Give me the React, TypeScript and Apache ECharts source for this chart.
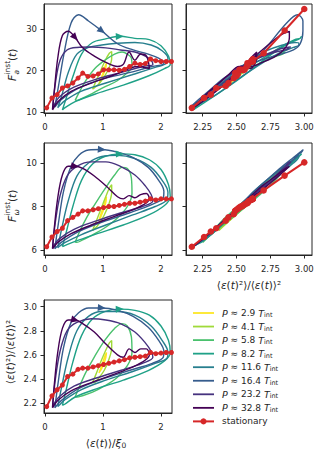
import React, { useEffect, useRef } from 'react';
import * as echarts from 'echarts';

const FONT = 'DejaVu Sans';
const INK = '#262626';
const RED = '#d62728';

// legend / series labels
const periods = ['2.9', '4.1', '5.8', '8.2', '11.6', '16.4', '23.2', '32.8'];
const colors = ['#fde725', '#a0da39', '#4ac16d', '#1fa187', '#277f8e', '#365c8d', '#46327e', '#440154'];

// tick values
const epsTicks = [0, 1, 2];
const ratioTicks = [2.25, 2.5, 2.75, 3.0];
const faTicks = [10, 20, 30];
const fwTicks = [6, 8, 10];
const ratioYTicks = [2.2, 2.4, 2.6, 2.8, 3.0];

// P ≈ 2.9 T_int
const eps29 = [0.93, 0.97, 1.01, 1.04, 1.06, 1.05, 1.01, 0.96, 0.93];
const ratio29 = [2.45, 2.50, 2.56, 2.60, 2.62, 2.58, 2.52, 2.47, 2.45];
const fa29 = [16.8, 18.3, 19.8, 21.2, 21.8, 20.8, 19.2, 17.5, 16.8];
const fw29 = [7.35, 7.7, 8.0, 8.3, 8.45, 8.2, 7.85, 7.5, 7.35];

// P ≈ 4.1 T_int
const eps41 = [0.82, 0.88, 0.96, 1.04, 1.11, 1.15, 1.15, 1.10, 1.02, 0.93, 0.85, 0.82];
const ratio41 = [2.37, 2.44, 2.54, 2.63, 2.70, 2.72, 2.66, 2.56, 2.47, 2.41, 2.37, 2.37];
const fa41 = [15.5, 17.5, 20.0, 22.5, 24.2, 24.6, 23.0, 20.5, 18.5, 16.8, 15.8, 15.5];
const fw41 = [6.9, 7.3, 7.85, 8.4, 8.85, 9.0, 8.65, 8.1, 7.6, 7.2, 6.95, 6.9];

// P ≈ 5.8 T_int
const eps58 = [0.52, 0.58, 0.70, 0.86, 1.03, 1.20, 1.33, 1.42, 1.49, 1.50, 1.42, 1.24, 1.02, 0.82, 0.64, 0.55, 0.52];
const ratio58 = [2.25, 2.32, 2.45, 2.59, 2.72, 2.82, 2.86, 2.84, 2.75, 2.62, 2.51, 2.41, 2.34, 2.29, 2.26, 2.25, 2.25];
const fa58 = [12.8, 14.5, 17.5, 20.5, 22.5, 24.0, 24.5, 24.0, 23.0, 21.0, 19.5, 17.5, 16.0, 14.5, 13.3, 12.8, 12.8];
const fw58 = [6.35, 6.75, 7.4, 8.1, 8.8, 9.45, 9.8, 9.75, 9.3, 8.6, 8.0, 7.45, 7.0, 6.7, 6.45, 6.35, 6.35];

// P ≈ 8.2 T_int
const eps82 = [0.30, 0.37, 0.48, 0.63, 0.82, 1.03, 1.29, 1.55, 1.80, 2.00, 2.13, 2.16, 2.06, 1.78, 1.35, 0.90, 0.52, 0.34, 0.30];
const ratio82 = [2.18, 2.32, 2.54, 2.76, 2.90, 2.96, 2.98, 2.97, 2.93, 2.84, 2.72, 2.62, 2.55, 2.47, 2.39, 2.32, 2.25, 2.19, 2.18];
const fa82 = [10.5, 13.5, 18.5, 24.0, 26.8, 27.6, 28.3, 27.8, 27.5, 26.0, 23.5, 21.5, 20.5, 18.7, 16.5, 14.5, 12.5, 11.0, 10.5];
const fw82 = [6.15, 6.85, 8.0, 9.2, 9.95, 10.3, 10.42, 10.38, 10.15, 9.7, 9.0, 8.45, 8.05, 7.6, 7.15, 6.75, 6.4, 6.2, 6.15];

// P ≈ 11.6 T_int
const eps116 = [0.22, 0.29, 0.40, 0.55, 0.75, 0.98, 1.25, 1.55, 1.83, 2.02, 2.12, 2.10, 1.90, 1.50, 1.05, 0.62, 0.35, 0.24, 0.22];
const ratio116 = [2.17, 2.34, 2.58, 2.80, 2.92, 2.96, 2.96, 2.93, 2.84, 2.72, 2.62, 2.57, 2.53, 2.46, 2.39, 2.31, 2.23, 2.18, 2.17];
const fa116 = [11.0, 14.0, 19.5, 24.0, 25.6, 26.2, 26.6, 26.8, 26.2, 24.8, 23.0, 21.8, 20.8, 19.0, 17.0, 15.0, 12.8, 11.4, 11.0];
const fw116 = [6.1, 7.0, 8.25, 9.4, 10.0, 10.3, 10.35, 10.2, 9.8, 9.2, 8.65, 8.3, 8.0, 7.6, 7.15, 6.7, 6.35, 6.15, 6.1];

// P ≈ 16.4 T_int
const eps164 = [0.17, 0.23, 0.32, 0.45, 0.58, 0.75, 0.98, 1.25, 1.52, 1.78, 1.96, 2.05, 2.04, 1.85, 1.45, 1.00, 0.58, 0.28, 0.17];
const ratio164 = [2.16, 2.38, 2.66, 2.87, 2.95, 2.99, 2.99, 2.97, 2.92, 2.83, 2.72, 2.63, 2.58, 2.53, 2.47, 2.40, 2.32, 2.22, 2.16];
const fa164 = [11.2, 16.0, 23.5, 31.5, 33.5, 32.0, 29.6, 26.5, 25.0, 24.0, 23.0, 22.0, 21.5, 21.0, 19.5, 18.0, 15.8, 13.0, 11.2];
const fw164 = [6.05, 7.2, 8.7, 9.85, 10.35, 10.6, 10.62, 10.5, 10.25, 9.8, 9.2, 8.7, 8.4, 8.1, 7.7, 7.3, 6.85, 6.35, 6.05];

// P ≈ 23.2 T_int
const eps232 = [0.13, 0.18, 0.26, 0.38, 0.55, 0.80, 1.05, 1.30, 1.55, 1.73, 1.83, 1.86, 1.68, 1.30, 0.90, 0.50, 0.24, 0.13];
const ratio232 = [2.17, 2.40, 2.63, 2.80, 2.87, 2.90, 2.89, 2.86, 2.79, 2.70, 2.63, 2.58, 2.53, 2.47, 2.41, 2.34, 2.25, 2.17];
const fa232 = [10.8, 17.0, 22.5, 25.0, 25.6, 25.7, 25.5, 25.0, 24.5, 23.5, 22.5, 21.5, 21.0, 19.5, 18.0, 16.0, 13.5, 10.8];
const fw232 = [6.1, 7.3, 8.5, 9.4, 9.85, 10.05, 10.05, 9.85, 9.45, 8.95, 8.55, 8.25, 8.0, 7.7, 7.35, 6.95, 6.5, 6.1];

// P ≈ 32.8 T_int
const eps328 = [0.13, 0.16, 0.22, 0.30, 0.40, 0.52, 0.65, 0.85, 1.05, 1.25, 1.35, 1.45, 1.55, 1.65, 1.75, 1.80, 1.60, 1.20, 0.80, 0.45, 0.22, 0.13];
const ratio328 = [2.16, 2.35, 2.62, 2.82, 2.89, 2.89, 2.86, 2.79, 2.69, 2.60, 2.58, 2.65, 2.62, 2.65, 2.65, 2.60, 2.52, 2.44, 2.37, 2.30, 2.22, 2.16];
const fa328 = [10.5, 15.0, 23.0, 28.5, 29.5, 28.0, 25.5, 23.5, 22.0, 21.0, 21.5, 24.5, 22.5, 24.0, 23.5, 20.5, 21.0, 19.0, 17.0, 15.0, 12.5, 10.5];
const fw328 = [6.05, 7.0, 8.4, 9.45, 9.85, 9.85, 9.75, 9.4, 8.95, 8.45, 8.35, 8.5, 8.4, 8.55, 8.6, 8.35, 7.95, 7.55, 7.15, 6.75, 6.35, 6.05];

// stationary
const statEps = [0.03, 0.12, 0.21, 0.30, 0.39, 0.48, 0.57, 0.65, 0.74, 0.83, 0.92, 1.01, 1.10, 1.19, 1.28, 1.37, 1.46, 1.55, 1.64, 1.73, 1.82, 1.91, 2.00, 2.09, 2.18, 2.40, 2.70, 3.00];
const statRatio = [2.17, 2.26, 2.31, 2.35, 2.42, 2.44, 2.48, 2.49, 2.49, 2.50, 2.51, 2.52, 2.53, 2.54, 2.55, 2.56, 2.575, 2.58, 2.585, 2.59, 2.62, 2.61, 2.615, 2.62, 2.62, 2.70, 2.855, 3.00];
const statFa = [11.0, 13.4, 14.2, 15.8, 16.3, 17.0, 18.2, 19.4, 18.6, 18.7, 19.2, 20.2, 20.2, 20.2, 20.1, 20.3, 21.0, 21.8, 21.5, 21.7, 22.8, 22.4, 22.2, 22.2, 22.2, 24.2, 29.7, 34.9];
const statFw = [6.15, 6.6, 6.85, 7.0, 7.35, 7.5, 7.65, 7.8, 7.8, 7.85, 7.9, 7.95, 8.0, 8.0, 8.05, 8.1, 8.15, 8.15, 8.2, 8.25, 8.35, 8.3, 8.35, 8.35, 8.35, 8.74, 9.42, 10.03];

type Loop = { name: string; color: string; eps: number[]; ratio: number[]; fa: number[]; fw: number[]; arrow: number };
const loopData: [number[], number[], number[], number[], number][] = [
  [eps29, ratio29, fa29, fw29, -1],
  [eps41, ratio41, fa41, fw41, -1],
  [eps58, ratio58, fa58, fw58, -1],
  [eps82, ratio82, fa82, fw82, 6],
  [eps116, ratio116, fa116, fw116, -1],
  [eps164, ratio164, fa164, fw164, 6],
  [eps232, ratio232, fa232, fw232, -1],
  [eps328, ratio328, fa328, fw328, 5],
];
const loops: Loop[] = loopData.map((d, k) => ({
  name: `P ≈ ${periods[k]} Tint`,
  color: colors[k],
  eps: d[0], ratio: d[1], fa: d[2], fw: d[3], arrow: d[4],
}));
const stat = { eps: statEps, ratio: statRatio, fa: statFa, fw: statFw };

// panel layout
const panels = [
  { x: 'eps', y: 'fa', left: true, sx: 58, sy: 4.14 },
  { x: 'ratio', y: 'fa', left: false, sx: 135.5, sy: 4.14 },
  { x: 'eps', y: 'fw', left: true, sx: 58, sy: 21.75 },
  { x: 'ratio', y: 'fw', left: false, sx: 135.5, sy: 21.75 },
  { x: 'eps', y: 'ratio', left: true, sx: 58, sy: 120.3 },
];

const grids = [
  { left: 44, top: 4, width: 128, height: 109 },
  { left: 186, top: 4, width: 126, height: 109 },
  { left: 44, top: 143, width: 128, height: 112 },
  { left: 186, top: 143, width: 126, height: 112 },
  { left: 44, top: 300, width: 128, height: 113 },
];

const mkAxis = (grid: number, min: number, max: number, ticks: number[], showLabel: boolean, fmt: (v: number) => string, isY: boolean) => ({
  type: 'value', gridIndex: grid, min, max,
  axisLine: { show: true, onZero: false, lineStyle: { color: INK, width: 1 } },
  axisTick: { show: true, length: 3.5, customValues: ticks, lineStyle: { color: INK, width: 1 } },
  axisLabel: { show: showLabel, customValues: ticks, formatter: fmt, color: INK, fontSize: 8.5, fontFamily: FONT, margin: isY ? 7 : 9 },
  splitLine: { show: false },
});

const f0 = (v: number) => String(Math.round(v));
const f1 = (v: number) => v.toFixed(1);
const f2 = (v: number) => v.toFixed(2);

const xAxes = [
  mkAxis(0, -0.017, 2.19, epsTicks, true, f0, false),
  mkAxis(1, 2.127, 3.057, ratioTicks, true, f2, false),
  mkAxis(2, -0.017, 2.19, epsTicks, true, f0, false),
  mkAxis(3, 2.127, 3.057, ratioTicks, true, f2, false),
  mkAxis(4, -0.017, 2.19, epsTicks, true, f0, false),
];
const yAxes = [
  mkAxis(0, 9.76, 36.1, faTicks, true, f0, true),
  mkAxis(1, 9.76, 36.1, faTicks, false, f0, true),
  mkAxis(2, 5.77, 10.92, fwTicks, true, f0, true),
  mkAxis(3, 5.77, 10.92, fwTicks, false, f0, true),
  mkAxis(4, 2.117, 3.056, ratioYTicks, true, f1, true),
];

const series: any[] = [];
panels.forEach((pn, p) => {
  loops.forEach((l) => {
    const xs = (l as any)[pn.x] as number[];
    const ys = (l as any)[pn.y] as number[];
    series.push({
      type: 'line', name: l.name, xAxisIndex: p, yAxisIndex: p,
      data: xs.map((v, i) => [v, ys[i]]),
      smooth: 0.35, symbol: 'none', silent: true, z: 2,
      lineStyle: { color: l.color, width: 1.4 }, itemStyle: { color: l.color },
    });
    if (pn.left && l.arrow >= 0) {
      const i = l.arrow;
      const dx = (xs[i + 1] - xs[i - 1]) * pn.sx;
      const dy = (ys[i + 1] - ys[i - 1]) * pn.sy;
      const ang = (Math.atan2(dy, dx) * 180) / Math.PI;
      series.push({
        type: 'scatter', name: 'arrow', xAxisIndex: p, yAxisIndex: p, silent: true, z: 3,
        data: [{ value: [xs[i], ys[i]], symbolRotate: ang - 90 }],
        symbol: 'triangle', symbolSize: [7, 8], itemStyle: { color: l.color, opacity: 1 },
      });
    }
  });
  const sx = (stat as any)[pn.x] as number[];
  const sy = (stat as any)[pn.y] as number[];
  series.push({
    type: 'line', name: 'stationary', xAxisIndex: p, yAxisIndex: p,
    data: sx.map((v, i) => [v, sy[i]]), clip: true,
    symbol: 'circle', symbolSize: pn.left ? 5 : 6.5, showAllSymbol: true, silent: true, z: 5,
    lineStyle: { color: RED, width: 2 }, itemStyle: { color: RED, borderWidth: 0 },
  });
});

const labelRich = {
  i: { fontStyle: 'italic', fontFamily: FONT, fontSize: 10.5, fill: INK },
  s: { fontFamily: FONT, fontSize: 7.5, fill: INK, verticalAlign: 'bottom', padding: [5, 0, 0, 0] },
};
const legendRich = {
  i: { fontStyle: 'italic', fontFamily: FONT, fontSize: 9.5, fill: INK, lineHeight: 11 },
  n: { fontFamily: FONT, fontSize: 9, fill: INK, lineHeight: 11 },
  s: { fontFamily: FONT, fontSize: 6.5, fill: INK, verticalAlign: 'bottom', lineHeight: 11, padding: [4, 0, 0, 0] },
};

const yTitle = (x: number, y: number, sub: string) => ({
  type: 'group', x, y, rotation: Math.PI / 2,
  children: [
    { type: 'text', x: -18, y: 0, style: { text: 'F', fontStyle: 'italic', fontSize: 11, fontFamily: FONT, fill: INK, align: 'left', verticalAlign: 'middle' } },
    { type: 'text', x: -11.5, y: 4, style: { text: sub, fontStyle: 'italic', fontSize: 7.5, fontFamily: FONT, fill: INK, align: 'left', verticalAlign: 'middle' } },
    { type: 'text', x: -11.5, y: -5, style: { text: 'inst', fontSize: 7.5, fontFamily: FONT, fill: INK, align: 'left', verticalAlign: 'middle' } },
    { type: 'text', x: 2, y: 0, style: { text: '({i|t})', fontSize: 10.5, fontFamily: FONT, fill: INK, align: 'left', verticalAlign: 'middle', rich: labelRich } },
  ],
});

// hand-drawn legend (thin swatch + rich text per entry)
const LEG_X = 193, LEG_Y = 313, LEG_DY = 13.55;
const legendItems: any[] = [];
loops.forEach((l, k) => {
  const y = LEG_Y + k * LEG_DY;
  legendItems.push({ type: 'rect', shape: { x: LEG_X, y: y - 0.9, width: 21, height: 1.8 }, style: { fill: l.color, stroke: null, lineWidth: 0 }, silent: true });
  legendItems.push({ type: 'text', x: LEG_X + 29, y, style: { text: `{i|P}{n| ≈ ${periods[k]} }{i|T}{s|int}`, rich: legendRich, fontFamily: FONT, fontSize: 9, fill: INK, align: 'left', verticalAlign: 'middle' }, silent: true });
});
{
  const y = LEG_Y + loops.length * LEG_DY;
  legendItems.push({ type: 'rect', shape: { x: LEG_X, y: y - 1, width: 21, height: 2 }, style: { fill: RED, stroke: null, lineWidth: 0 }, silent: true });
  legendItems.push({ type: 'circle', shape: { cx: LEG_X + 10.5, cy: y, r: 3 }, style: { fill: RED }, silent: true });
  legendItems.push({ type: 'text', x: LEG_X + 29, y, style: { text: 'stationary', fontFamily: FONT, fontSize: 9, fill: INK, align: 'left', verticalAlign: 'middle' }, silent: true });
}

const ratioLabel = '⟨{i|ε}({i|t})²⟩/⟨{i|ε}({i|t})⟩²';

const option: any = {
  animation: false,
  backgroundColor: '#ffffff',
  grid: grids.map((g) => ({ ...g, show: true, borderColor: INK, borderWidth: 1, backgroundColor: 'transparent', containLabel: false })),
  xAxis: xAxes,
  yAxis: yAxes,
  series,
  graphic: [
    yTitle(12, 63, 'a'),
    yTitle(12, 204, 'ω'),
    { type: 'text', x: 10, y: 352, rotation: Math.PI / 2, style: { text: ratioLabel, fontFamily: FONT, fontSize: 10.5, fill: INK, align: 'center', verticalAlign: 'middle', rich: labelRich } },
    { type: 'text', x: 249, y: 285, style: { text: ratioLabel, fontFamily: FONT, fontSize: 10.5, fill: INK, align: 'center', verticalAlign: 'middle', rich: labelRich } },
    { type: 'text', x: 106, y: 443, style: { text: '⟨{i|ε}({i|t})⟩/{i|ξ}{s|0}', fontFamily: FONT, fontSize: 10.5, fill: INK, align: 'center', verticalAlign: 'middle', rich: labelRich } },
    ...legendItems,
  ],
};

export default function App() {
  const ref = useRef<HTMLDivElement>(null);
  useEffect(() => {
    if (!ref.current) return;
    const chart = echarts.init(ref.current, null, { renderer: 'svg' });
    chart.setOption(option);
    return () => chart.dispose();
  }, []);
  return <div ref={ref} style={{ position: 'fixed', left: 0, top: 0, width: 319, height: 452, background: '#fff' }} />;
}
